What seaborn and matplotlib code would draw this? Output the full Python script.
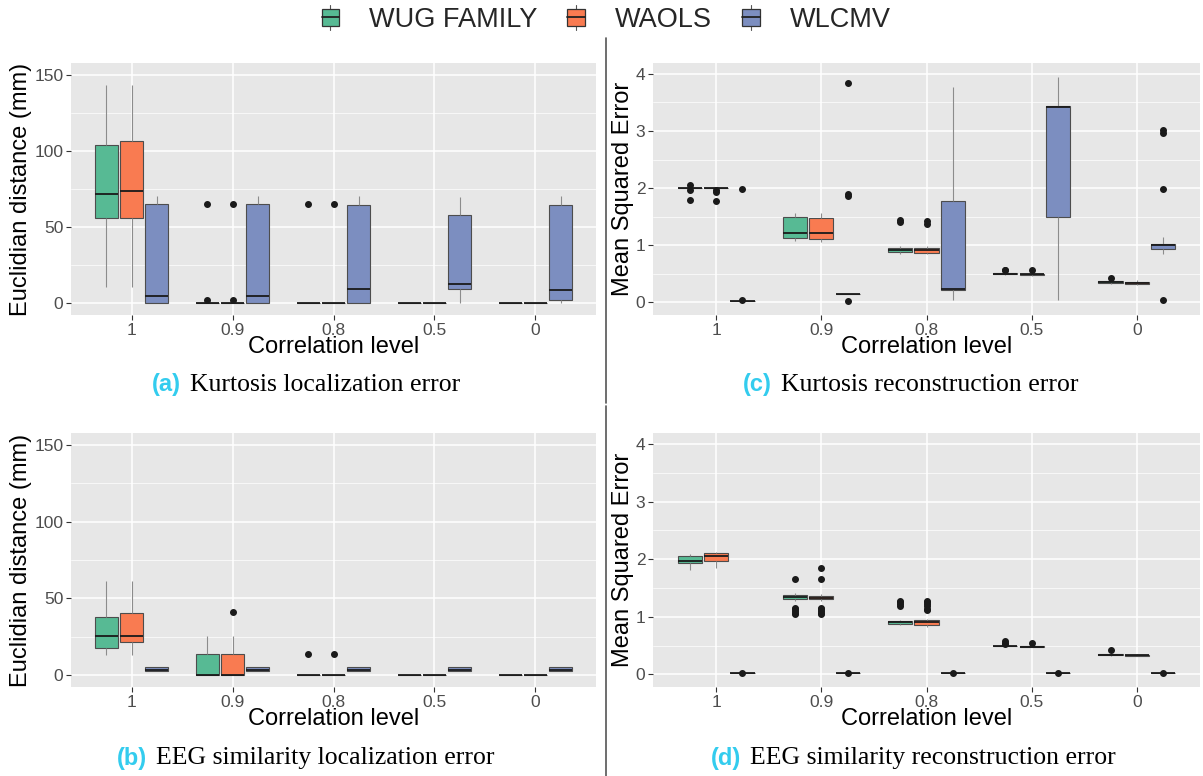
import matplotlib
matplotlib.use("Agg")
import matplotlib.pyplot as plt
from matplotlib.legend_handler import HandlerBase
from matplotlib.patches import Rectangle, Patch
from matplotlib.lines import Line2D
from matplotlib.ticker import AutoMinorLocator
import seaborn as sns
import pandas as pd

levels = ["1", "0.9", "0.8", "0.5", "0"]
methods = ["WUG FAMILY", "WAOLS", "WLCMV"]
colors = ["#57BA94", "#F97B51", "#7C8EC0"]

# box summaries: (low whisker, q1, median, q3, high whisker)
# (a) kurtosis localization error
ka_wug = [(10.9, 55.8, 71.9, 103.8, 143.5), (0, 0, 0, 0, 0), (0, 0, 0, 0, 0), (0, 0, 0, 0, 0), (0, 0, 0, 0, 0)]
ka_wug_out = [[], [65.2, 2.2], [65.2], [], []]
ka_waols = [(10.9, 55.8, 73.7, 106.2, 143.5), (0, 0, 0, 0, 0), (0, 0, 0, 0, 0), (0, 0, 0, 0, 0), (0, 0, 0, 0, 0)]
ka_waols_out = [[], [65.2, 2.2], [65.2], [], []]
ka_wlcmv = [(0, 0, 4.8, 65.2, 70.4), (0, 0, 4.8, 65.2, 70.4), (0, 0, 9.6, 64.5, 70.4), (0, 9.2, 12.4, 58.2, 69.5), (0, 2.2, 8.7, 64.5, 70.4)]
ka_wlcmv_out = [[], [], [], [], []]

# (b) EEG similarity localization error
eb_wug = [(13.2, 17.6, 25.8, 38.2, 61.0), (0, 0, 0, 13.5, 25.8), (0, 0, 0, 0, 0), (0, 0, 0, 0, 0), (0, 0, 0, 0, 0)]
eb_wug_out = [[], [], [13.5], [], []]
eb_waols = [(13.2, 21.9, 25.8, 40.2, 61.0), (0, 0, 0, 13.5, 25.8), (0, 0, 0, 0, 0), (0, 0, 0, 0, 0), (0, 0, 0, 0, 0)]
eb_waols_out = [[], [41.2], [13.5], [], []]
eb_wlcmv = [(3.0, 3.0, 3.4, 5.0, 5.0), (3.0, 3.0, 3.4, 5.0, 5.0), (3.0, 3.0, 3.4, 5.0, 5.0), (3.0, 3.0, 3.4, 5.0, 5.0), (3.0, 3.0, 3.4, 5.0, 5.0)]
eb_wlcmv_out = [[], [], [], [], []]

# (c) kurtosis reconstruction error
kc_wug = [(2.0, 2.0, 2.0, 2.0, 2.0), (1.07, 1.13, 1.21, 1.50, 1.57), (0.85, 0.88, 0.92, 0.96, 0.98), (0.48, 0.49, 0.50, 0.51, 0.52), (0.32, 0.345, 0.355, 0.37, 0.39)]
kc_wug_out = [[2.06, 1.97, 1.79], [], [1.44, 1.40], [0.57, 0.56], [0.43]]
kc_waols = [(2.0, 2.0, 2.0, 2.0, 2.0), (1.06, 1.11, 1.21, 1.48, 1.57), (0.85, 0.87, 0.915, 0.96, 0.98), (0.47, 0.48, 0.49, 0.50, 0.51), (0.30, 0.33, 0.34, 0.355, 0.39)]
kc_waols_out = [[1.96, 1.93, 1.78], [], [1.42, 1.37], [0.56], []]
kc_wlcmv = [(0.02, 0.02, 0.02, 0.025, 0.025), (0.14, 0.14, 0.14, 0.14, 0.14), (0.04, 0.21, 0.23, 1.77, 3.77), (0.05, 1.50, 3.42, 3.43, 3.95), (0.84, 0.93, 1.01, 1.02, 1.14)]
kc_wlcmv_out = [[1.99, 0.05], [3.84, 1.89, 1.86, 0.03], [], [], [3.02, 2.97, 1.99, 0.04]]

# (d) EEG similarity reconstruction error
ed_wug = [(1.82, 1.93, 1.97, 2.06, 2.09), (1.28, 1.30, 1.34, 1.37, 1.41), (0.85, 0.87, 0.90, 0.93, 0.95), (0.48, 0.485, 0.49, 0.495, 0.50), (0.32, 0.335, 0.34, 0.35, 0.36)]
ed_wug_out = [[], [1.66, 1.16, 1.13, 1.10, 1.07, 1.05], [1.28, 1.25, 1.22, 1.19], [0.57, 0.55, 0.53], [0.42]]
ed_waols = [(1.84, 1.96, 2.05, 2.10, 2.12), (1.28, 1.30, 1.33, 1.36, 1.40), (0.83, 0.86, 0.91, 0.94, 0.96), (0.47, 0.475, 0.48, 0.485, 0.49), (0.31, 0.325, 0.33, 0.34, 0.35)]
ed_waols_out = [[], [1.85, 1.66, 1.16, 1.13, 1.10, 1.07, 1.05], [1.28, 1.25, 1.22, 1.18, 1.14, 1.11], [0.55], []]
ed_wlcmv = [(0.02, 0.02, 0.02, 0.022, 0.022), (0.02, 0.02, 0.02, 0.022, 0.022), (0.02, 0.02, 0.02, 0.022, 0.022), (0.02, 0.02, 0.02, 0.022, 0.022), (0.02, 0.02, 0.02, 0.022, 0.022)]
ed_wlcmv_out = [[0.03], [0.03], [0.03], [0.03], [0.03]]


def build_table(stats_by_method, outliers_by_method, reps=20):
    # expand each summary into a sample whose quartiles land on the read values
    rows = []
    for method, stats, outs in zip(methods, stats_by_method, outliers_by_method):
        for level, (lo, q1, med, q3, hi), extra in zip(levels, stats, outs):
            values = [lo, hi] + [q1] * reps + [med] * reps + [q3] * reps + list(extra)
            rows += [(level, method, v) for v in values]
    return pd.DataFrame(rows, columns=["level", "method", "value"])


class BoxKey(HandlerBase):
    def create_artists(self, legend, orig_handle, xdescent, ydescent, width, height, fontsize, trans):
        x0, y0 = -xdescent, -ydescent
        whisk = Line2D([x0 + width / 2] * 2, [y0 - 0.25 * height, y0 + 1.25 * height], color="#555555", lw=0.8, transform=trans)
        box = Rectangle((x0, y0), width, height, facecolor=orig_handle.get_facecolor(), edgecolor="#333333", lw=0.9, transform=trans)
        med = Line2D([x0, x0 + width], [y0 + height / 2] * 2, color="#222222", lw=1.3, transform=trans)
        return [whisk, box, med]


sns.set_style("darkgrid", {"axes.facecolor": "#E7E7E7", "grid.color": "white"})
plt.rcParams["font.family"] = ["Liberation Sans", "DejaVu Sans"]

W, H = 1203, 776
fig = plt.figure(figsize=(W / 100, H / 100), dpi=100)

panels = [
    ((71, 63, 596, 315), ka_wug, ka_wug_out, ka_waols, ka_waols_out, ka_wlcmv, ka_wlcmv_out,
     "Euclidian distance (mm)", (-7.7, 157.7), [0, 50, 100, 150], 32),
    ((71, 433, 596, 687), eb_wug, eb_wug_out, eb_waols, eb_waols_out, eb_wlcmv, eb_wlcmv_out,
     "Euclidian distance (mm)", (-7.7, 157.7), [0, 50, 100, 150], 32),
    ((653, 63, 1200, 315), kc_wug, kc_wug_out, kc_waols, kc_waols_out, kc_wlcmv, kc_wlcmv_out,
     "Mean Squared Error", (-0.22, 4.19), [0, 1, 2, 3, 4], 634),
    ((653, 433, 1200, 687), ed_wug, ed_wug_out, ed_waols, ed_waols_out, ed_wlcmv, ed_wlcmv_out,
     "Mean Squared Error", (-0.22, 4.19), [0, 1, 2, 3, 4], 634),
]

for (l, t, r, b), s1, o1, s2, o2, s3, o3, ylab, ylim, yticks, ylab_x in panels:
    ax = fig.add_axes([l / W, 1 - b / H, (r - l) / W, (b - t) / H])
    df = build_table([s1, s2, s3], [o1, o2, o3])
    sns.boxplot(data=df, x="level", y="value", hue="method", order=levels, hue_order=methods,
                palette=colors, saturation=1, width=0.75, gap=0.08, linewidth=0.8,
                showcaps=False, legend=False, ax=ax,
                boxprops=dict(edgecolor="#4D4D4D"),
                whiskerprops=dict(color="#8C8C8C"),
                medianprops=dict(color="#1A1A1A", linewidth=1.3),
                flierprops=dict(marker="o", markerfacecolor="#1A1A1A", markeredgecolor="#1A1A1A", markersize=4))
    ax.set_xlim(-0.6, 4.6)
    ax.set_ylim(*ylim)
    ax.set_yticks(yticks)
    ax.yaxis.set_minor_locator(AutoMinorLocator(2))
    ax.xaxis.grid(True, color="white", lw=1.1)
    ax.yaxis.grid(True, which="major", color="white", lw=1.1)
    ax.yaxis.grid(True, which="minor", color="white", lw=0.5)
    ax.set_axisbelow(True)
    for sp in ax.spines.values():
        sp.set_visible(False)
    ax.tick_params(axis="both", which="major", bottom=True, left=True, length=3.5, width=0.8,
                   color="#333333", labelcolor="#4D4D4D", labelsize=12.5, pad=2)
    ax.tick_params(axis="y", which="minor", left=False)
    ax.set_xlabel("Correlation level", fontsize=17, color="black", labelpad=-1)
    ax.set_ylabel(ylab, fontsize=17, color="black")
    ax.yaxis.set_label_coords((ylab_x - l) / (r - l), 0.5)

# panel separators
fig.add_artist(Line2D([606 / W] * 2, [1 - 38 / H, 1 - 403 / H], transform=fig.transFigure, color="#555555", lw=1.2))
fig.add_artist(Line2D([606 / W] * 2, [1 - 406 / H, 0], transform=fig.transFigure, color="#555555", lw=1.2))

handles = [Patch(facecolor=c) for c in colors]
fig.legend(handles, methods, loc="center", bbox_to_anchor=(606 / W, 1 - 20 / H), ncol=3, frameon=False,
           fontsize=19.5, handlelength=0.66, handleheight=0.6, handletextpad=1.1, columnspacing=1.1,
           handler_map={Patch: BoxKey()})

# subfigure captions
renderer = fig.canvas.get_renderer()
captions = [(306, 385, "(a)", "Kurtosis localization error"),
            (306, 758, "(b)", "EEG similarity localization error"),
            (911, 385, "(c)", "Kurtosis reconstruction error"),
            (913, 758, "(d)", "EEG similarity reconstruction error")]
for cx, cy, tag, text in captions:
    t1 = fig.text(0, 1 - cy / H, tag, fontsize=17, family=["Liberation Sans", "DejaVu Sans"],
                  fontweight="bold", color="#33CCEE", va="center")
    t2 = fig.text(0, 1 - cy / H, text, fontsize=18.5, family=["Liberation Serif", "DejaVu Serif"],
                  color="black", va="center")
    w1 = t1.get_window_extent(renderer).width
    w2 = t2.get_window_extent(renderer).width
    gap = 9
    x0 = cx - (w1 + gap + w2) / 2
    t1.set_x(x0 / W)
    t2.set_x((x0 + w1 + gap) / W)

fig.savefig("out.png", dpi=100)
